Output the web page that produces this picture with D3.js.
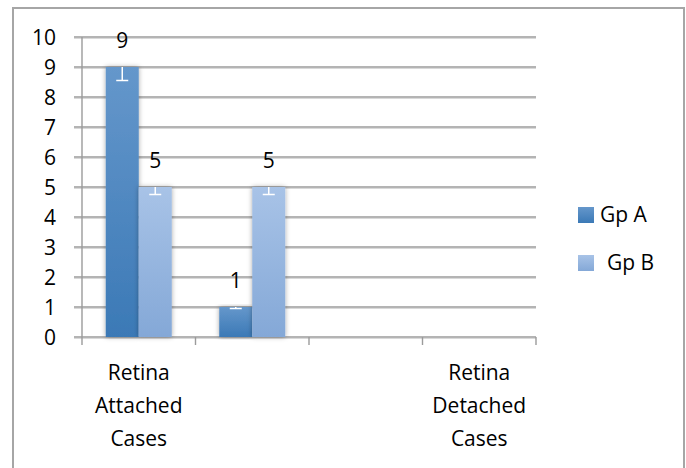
<html lang="en">
<head>
  <meta charset="UTF-8">
  <title>Retina cases</title>
  <style>
    body { margin: 0; background: #fff; }
    #viz { width: 686px; height: 468px; }
    text { font-family: "Open Sans", sans-serif; fill: #000; font-size: 21px; }
  </style>
</head>
<body>
  <div id="viz"></div>
  <script src="https://d3js.org/d3.v7.min.js"></script>
  <script>
    const categories = ["Retina Attached Cases", "", "", "Retina Detached Cases"]
    const series = ["Gp A", "Gp B"]
    const gpA = [9, 1, null, null]
    const gpB = [5, 5, null, null]
    const yTicks = [0, 1, 2, 3, 4, 5, 6, 7, 8, 9, 10]
    const errPct = 0.05

    const width = 686, height = 468
    const plot = {left: 82, right: 536, top: 37, bottom: 337}

    const svg = d3.select("#viz")
      .append("svg")
      .attr("width", width)
      .attr("height", height)

    const defs = svg.append("defs")
    const grads = [
      {id: "gA", top: "#6597cb", bottom: "#3b79b6"},
      {id: "gB", top: "#a8c3e7", bottom: "#84a8d7"}
    ]
    grads.forEach(function(g) {
      let lg = defs.append("linearGradient").attr("id", g.id)
        .attr("x1", 0).attr("y1", 0).attr("x2", 0).attr("y2", 1)
      lg.append("stop").attr("offset", "0%").attr("stop-color", g.top)
      lg.append("stop").attr("offset", "100%").attr("stop-color", g.bottom)
    })
    const shadow = defs.append("filter").attr("id", "shadow")
      .attr("x", "-30%").attr("y", "-10%").attr("width", "160%").attr("height", "120%")
    shadow.append("feDropShadow").attr("dx", 0).attr("dy", 0)
      .attr("stdDeviation", 2.5).attr("flood-color", "#000").attr("flood-opacity", 0.35)

    // outer frame
    svg.append("rect")
      .attr("x", 13).attr("y", 8).attr("width", 671).attr("height", 470)
      .attr("fill", "none").attr("stroke", "#a6a6a6").attr("stroke-width", 2)

    let y = d3.scaleLinear().domain([0, 10]).range([plot.bottom, plot.top])
    let x0 = d3.scaleBand().domain(d3.range(categories.length)).range([plot.left, plot.right])
    let x1 = d3.scaleBand().domain(series).range([-33, 33])
    let fill = d3.scaleOrdinal().domain(series).range(["url(#gA)", "url(#gB)"])

    // gridlines with a faint second line under each
    let grid = svg.append("g")
    grid.selectAll("line.soft")
      .data(yTicks)
      .enter().append("line")
      .attr("class", "soft")
      .attr("x1", 74).attr("x2", plot.right)
      .attr("y1", function(d) { return y(d) + 1.5 })
      .attr("y2", function(d) { return y(d) + 1.5 })
      .attr("stroke", "#d9d9d9").attr("stroke-width", 1)
    grid.selectAll("line.main")
      .data(yTicks)
      .enter().append("line")
      .attr("class", "main")
      .attr("x1", 74).attr("x2", plot.right)
      .attr("y1", function(d) { return y(d) })
      .attr("y2", function(d) { return y(d) })
      .attr("stroke", "#9b9b9b").attr("stroke-width", 1.4)

    // y axis line + labels
    svg.append("line")
      .attr("x1", plot.left).attr("x2", plot.left)
      .attr("y1", plot.top).attr("y2", plot.bottom)
      .attr("stroke", "#9b9b9b").attr("stroke-width", 1.4)
    svg.append("g").selectAll("text")
      .data(yTicks)
      .enter().append("text")
      .attr("x", 56)
      .attr("y", function(d) { return y(d) + 7.5 })
      .attr("text-anchor", "end")
      .text(function(d) { return d })

    // x ticks at band edges
    let edges = d3.range(categories.length + 1).map(function(i) {
      return i < categories.length ? x0(i) : x0(i - 1) + x0.bandwidth()
    })
    svg.append("g").selectAll("line")
      .data(edges)
      .enter().append("line")
      .attr("x1", function(d) { return d }).attr("x2", function(d) { return d })
      .attr("y1", plot.bottom).attr("y2", plot.bottom + 8)
      .attr("stroke", "#9b9b9b").attr("stroke-width", 1.4)

    // bars
    let rows = []
    categories.forEach(function(c, i) {
      rows.push({cat: i, key: "Gp A", value: gpA[i]})
      rows.push({cat: i, key: "Gp B", value: gpB[i]})
    })
    rows = rows.filter(function(d) { return d.value != null })

    let bars = svg.append("g").selectAll("g.bar")
      .data(rows)
      .enter().append("g")
      .attr("class", "bar")
      .attr("transform", function(d) {
        return "translate(" + (x0(d.cat) + x0.bandwidth() / 2 + x1(d.key)) + ",0)"
      })

    bars.append("rect")
      .attr("x", 0)
      .attr("y", function(d) { return y(d.value) })
      .attr("width", x1.bandwidth())
      .attr("height", function(d) { return y(0) - y(d.value) })
      .attr("fill", function(d) { return fill(d.key) })
      .attr("filter", "url(#shadow)")

    // minus error bars (5 %), white
    let bw = x1.bandwidth()
    bars.append("line")
      .attr("x1", bw / 2).attr("x2", bw / 2)
      .attr("y1", function(d) { return y(d.value) })
      .attr("y2", function(d) { return y(d.value * (1 - errPct)) })
      .attr("stroke", "#fff").attr("stroke-width", 1.5)
    bars.append("line")
      .attr("x1", bw / 2 - 6).attr("x2", bw / 2 + 6)
      .attr("y1", function(d) { return y(d.value * (1 - errPct)) })
      .attr("y2", function(d) { return y(d.value * (1 - errPct)) })
      .attr("stroke", "#fff").attr("stroke-width", 1.5)

    bars.append("text")
      .attr("x", bw / 2)
      .attr("y", function(d) { return y(d.value) - 19 })
      .attr("text-anchor", "middle")
      .text(function(d) { return d.value })

    // category labels, wrapped one word per line
    svg.append("g").selectAll("text")
      .data(categories)
      .enter().append("text")
      .attr("x", function(d, i) { return x0(i) + x0.bandwidth() / 2 })
      .attr("y", 380)
      .attr("text-anchor", "middle")
      .each(function(d) {
        let t = d3.select(this)
        let words = d ? d.split(" ") : []
        words.forEach(function(w, k) {
          t.append("tspan")
            .attr("x", t.attr("x"))
            .attr("dy", k === 0 ? 0 : 33)
            .text(w)
        })
      })

    // legend
    let legend = svg.append("g").selectAll("g")
      .data(series)
      .enter().append("g")
      .attr("transform", function(d, i) { return "translate(578," + (207 + i * 48) + ")" })
    legend.append("rect")
      .attr("width", 16).attr("height", 16)
      .attr("fill", function(d) { return fill(d) })
    legend.append("text")
      .attr("x", function(d, i) { return i === 0 ? 22 : 29 })
      .attr("y", 15)
      .text(function(d) { return d })
  </script>
</body>
</html>
